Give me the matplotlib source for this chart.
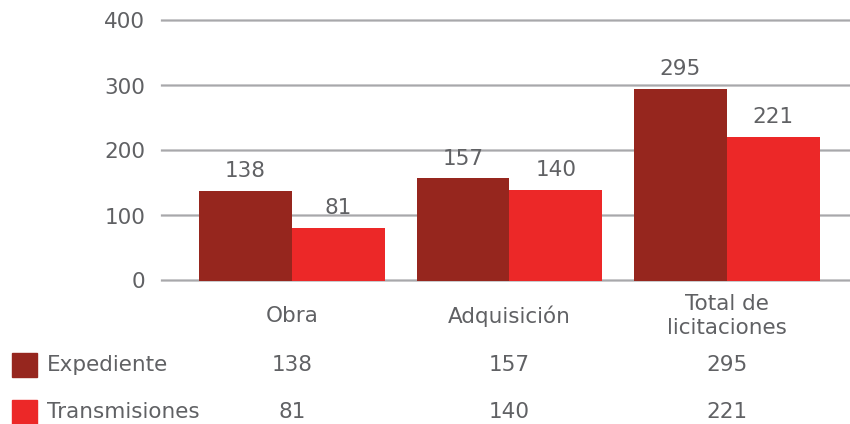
import matplotlib
matplotlib.use("Agg")
import matplotlib.pyplot as plt
from matplotlib.patches import Rectangle
from matplotlib.transforms import blended_transform_factory
import numpy as np

categories = ["Obra", "Adquisición", "Total de\nlicitaciones"]
series_names = ["Expediente", "Transmisiones"]
expediente = [138, 157, 295]
transmisiones = [81, 140, 221]
yticks = [0, 100, 200, 300, 400]

c_dark = "#96261E"
c_bright = "#EC2828"
txt = "#606164"
grid_c = "#A8A8AB"
plt.rcParams['font.family'] = ['DejaVu Sans']
fs = 15.5

fig = plt.figure(figsize=(8.5, 4.24), dpi=100)
ax = fig.add_axes([162/850, 1-280.5/424, 1-162/850, 260/424])

x = np.arange(len(categories))
w = 0.4275
b1 = ax.bar(x - w/2, expediente, w, color=c_dark, zorder=3)
b2 = ax.bar(x + w/2, transmisiones, w, color=c_bright, zorder=3)
ax.bar_label(b1, padding=7, fontsize=fs, color=txt)
ax.bar_label(b2, padding=7, fontsize=fs, color=txt)

ax.set_xlim(-0.598, 2.566)
ax.set_ylim(0, 400)
ax.set_yticks(yticks)
ax.set_yticklabels([str(v) for v in yticks], fontsize=fs, color=txt)
ax.yaxis.grid(True, color=grid_c, linewidth=1.6, zorder=0, snap=False)
for gl in ax.get_ygridlines():
    gl.set_clip_on(False)
ax.tick_params(axis='y', length=0, pad=12)
ax.set_xticks([])
for s in ax.spines.values():
    s.set_visible(False)

tr = blended_transform_factory(ax.transData, fig.transFigure)
for xi, cat in zip(x, categories):
    ax.text(xi, 1-316/424, cat, transform=tr, ha='center', va='center',
            fontsize=fs, color=txt, linespacing=1.2)

rows_y = [1-365/424, 1-412/424]
for yy, name, vals, col in zip(rows_y, series_names, [expediente, transmisiones], [c_dark, c_bright]):
    fig.patches.append(Rectangle((12/850, yy-12/424), 25/850, 24/424,
                                 transform=fig.transFigure, color=col, figure=fig))
    fig.text(47/850, yy, name, ha='left', va='center', fontsize=fs, color=txt)
    for xi, v in zip(x, vals):
        ax.text(xi, yy, str(v), transform=tr, ha='center', va='center',
                fontsize=fs, color=txt)

fig.savefig("out.png", dpi=100)
